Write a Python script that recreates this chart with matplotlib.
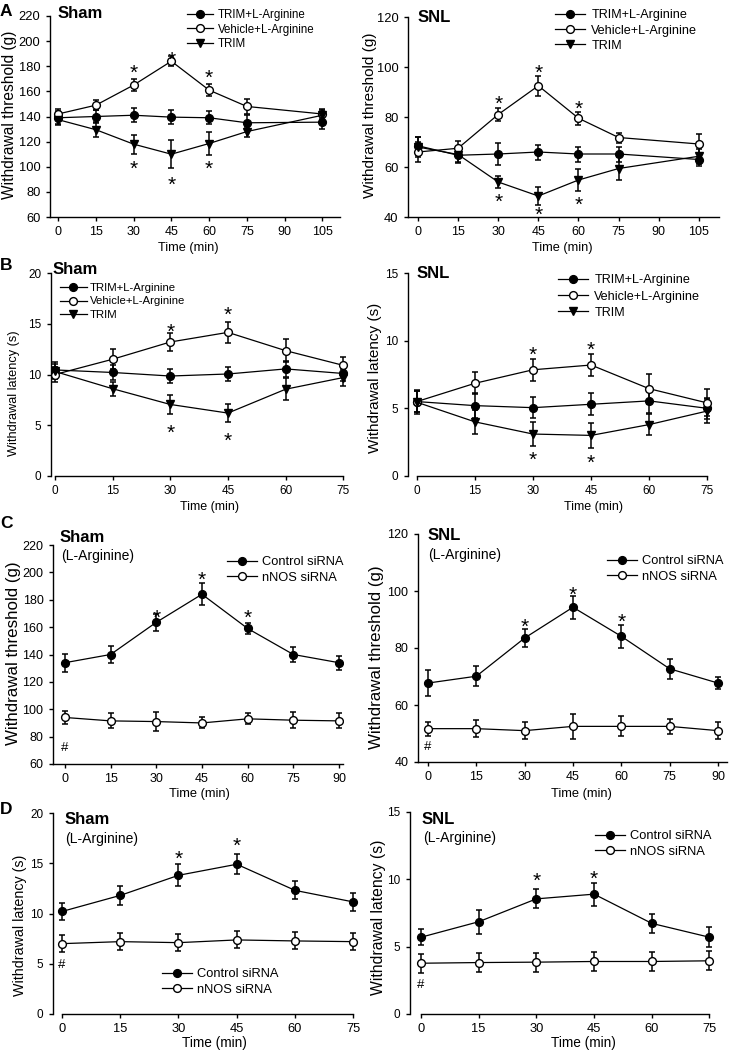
import matplotlib
matplotlib.use('Agg')
import matplotlib.pyplot as plt
from matplotlib.lines import Line2D
from matplotlib.transforms import offset_copy

plt.rcParams['font.family'] = ['Liberation Sans', 'DejaVu Sans']

W, H = 730, 1050
fig = plt.figure(figsize=(7.3, 10.5), dpi=100)


def fx(px):
    return px / W


def fy(py):
    return 1 - py / H


# ---------------- data ----------------
# Panel A: withdrawal threshold (g)
time_a = [0, 15, 30, 45, 60, 75, 105]
xticks_a = [0, 15, 30, 45, 60, 75, 90, 105]
labels_abc = ['TRIM+L-Arginine', 'Vehicle+L-Arginine', 'TRIM']

a_sham_trim_larg = [139, 140, 141, 139.5, 139, 135, 135.5]
a_sham_trim_larg_sem = [5, 5, 5.5, 5.5, 5, 6, 5.5]
a_sham_veh_larg = [142, 149, 165, 184, 161, 148, 142]
a_sham_veh_larg_sem = [4, 4, 5, 4, 5, 6, 4]
a_sham_trim = [137.5, 129.5, 118, 110, 118.5, 128, 141]
a_sham_trim_sem = [4, 6, 7.5, 11, 9, 4, 4]
a_sham_star_x = [30, 45, 60, 30, 45, 60]
a_sham_star_y = [179, 190, 175, 103, 90, 103]

a_snl_trim_larg = [68.5, 64.7, 65.2, 66, 65.2, 65.2, 63]
a_snl_trim_larg_sem = [3.5, 3, 4.3, 3, 3, 3, 2.5]
a_snl_veh_larg = [66, 67.5, 81, 92.5, 79.5, 71.8, 69.2]
a_snl_veh_larg_sem = [4, 3, 2.5, 4, 2.5, 2, 4]
a_snl_trim = [68, 65, 54, 48.4, 54.8, 59.4, 64.3]
a_snl_trim_sem = [4, 3, 2.5, 3.5, 4.5, 4.5, 3]
a_snl_star_x = [30, 45, 60, 30, 45, 60]
a_snl_star_y = [87.5, 100, 85.5, 48.5, 43, 47]

# Panel B: withdrawal latency (s)
time_b = [0, 15, 30, 45, 60, 75]
b_sham_trim_larg = [10.45, 10.2, 9.85, 10.05, 10.55, 10.1]
b_sham_trim_larg_sem = [0.8, 0.7, 0.7, 0.7, 0.8, 0.7]
b_sham_veh_larg = [10.0, 11.5, 13.2, 14.15, 12.35, 10.9]
b_sham_veh_larg_sem = [0.7, 1.0, 0.9, 1.0, 1.1, 0.8]
b_sham_trim = [10.3, 8.6, 7.05, 6.2, 8.55, 9.7]
b_sham_trim_sem = [0.7, 0.7, 0.9, 0.9, 1.1, 0.8]
b_sham_star_x = [30, 45, 30, 45]
b_sham_star_y = [14.8, 16.4, 4.85, 4.0]

b_snl_trim_larg = [5.5, 5.2, 5.05, 5.3, 5.55, 5.0]
b_snl_trim_larg_sem = [0.8, 0.9, 0.8, 0.8, 0.9, 0.8]
b_snl_veh_larg = [5.5, 6.85, 7.85, 8.2, 6.45, 5.4]
b_snl_veh_larg_sem = [0.8, 0.8, 0.8, 0.8, 1.1, 1.0]
b_snl_trim = [5.45, 4.0, 3.1, 3.0, 3.8, 4.8]
b_snl_trim_sem = [0.9, 0.9, 0.9, 0.9, 0.8, 0.9]
b_snl_star_x = [30, 45, 30, 45]
b_snl_star_y = [9.4, 9.75, 1.6, 1.4]

# Panel C: withdrawal threshold (g), siRNA
time_c = [0, 15, 30, 45, 60, 75, 90]
labels_cd = ['Control siRNA', 'nNOS siRNA']
c_sham_ctrl = [134, 140, 163.5, 184, 159, 140, 134]
c_sham_ctrl_sem = [6.5, 6.5, 6, 8, 4, 5.5, 5]
c_sham_nnos = [94, 91.5, 91, 90, 93, 92, 91.5]
c_sham_nnos_sem = [5, 5.5, 7, 4, 4, 6, 5.5]
c_sham_star_x = [30, 45, 60]
c_sham_star_y = [171, 199, 171]
c_sham_hash_y = 73

c_snl_ctrl = [67.7, 70.1, 83.5, 94.3, 84.1, 72.7, 67.7]
c_snl_ctrl_sem = [4.5, 3.5, 3, 4, 4, 3.5, 2]
c_snl_nnos = [51.7, 51.7, 51, 52.5, 52.5, 52.5, 51]
c_snl_nnos_sem = [2.5, 3, 3, 4.5, 3.5, 2.5, 3]
c_snl_star_x = [30, 45, 60]
c_snl_star_y = [89.5, 100.5, 91]
c_snl_hash_y = 46

# Panel D: withdrawal latency (s), siRNA
time_d = [0, 15, 30, 45, 60, 75]
d_sham_ctrl = [10.2, 11.8, 13.8, 14.9, 12.3, 11.15]
d_sham_ctrl_sem = [0.85, 0.95, 1.1, 1.0, 0.9, 0.9]
d_sham_nnos = [7.0, 7.2, 7.1, 7.37, 7.27, 7.2]
d_sham_nnos_sem = [0.85, 0.85, 0.85, 0.85, 0.85, 0.85]
d_sham_star_x = [30, 45]
d_sham_star_y = [16.0, 17.3]
d_sham_hash_y = 5.0

d_snl_ctrl = [5.7, 6.85, 8.55, 8.9, 6.73, 5.7]
d_snl_ctrl_sem = [0.6, 0.9, 0.7, 0.85, 0.7, 0.75]
d_snl_nnos = [3.77, 3.82, 3.85, 3.9, 3.9, 3.95]
d_snl_nnos_sem = [0.7, 0.7, 0.7, 0.7, 0.7, 0.7]
d_snl_star_x = [30, 45]
d_snl_star_y = [10.3, 10.45]
d_snl_hash_y = 2.3

# ---------------- styles ----------------
STY = {
    'filled': dict(marker='o', mfc='black', mec='black', ms=5.6),
    'open': dict(marker='o', mfc='white', mec='black', ms=5.6, mew=1.0),
    'tri': dict(marker='v', mfc='black', mec='black', ms=6.0),
}


def panel(rect, xlim, ylim, xticks, yticks, series, ylabel, ylab_fs, ylab_xy,
          xlab_xy, xlab_fs, tick_fs, title, title_xy, sub_xy, leg, stars,
          hashes, xbounds=None):
    x0, x1, yt, yb = rect
    ax = fig.add_axes([fx(x0), fy(yb), (x1 - x0) / W, (yb - yt) / H])
    ax.set_xlim(*xlim)
    ax.set_ylim(*ylim)
    ax.set_xticks(xticks)
    ax.set_yticks(yticks)
    for s in ['top', 'right']:
        ax.spines[s].set_visible(False)
    for s in ['left', 'bottom']:
        ax.spines[s].set_linewidth(1.0)
    if xbounds is not None:
        ax.spines['bottom'].set_bounds(*xbounds)
    ax.tick_params(direction='out', length=3, width=1.0, pad=3.8)
    ax.tick_params(axis='x', labelsize=tick_fs[0])
    ax.tick_params(axis='y', labelsize=tick_fs[1])
    handles = []
    for (xs, ys, es, kind, lab) in series:
        ax.errorbar(xs, ys, yerr=es, fmt='none', ecolor='black',
                    elinewidth=1.1, capsize=2.4, capthick=1.1, zorder=2)
        ax.plot(xs, ys, color='black', lw=0.9, zorder=3, **STY[kind])
        handles.append(Line2D([], [], color='black', lw=0.9, **STY[kind]))
    ax.set_ylabel(ylabel, fontsize=ylab_fs)
    ax.yaxis.label.set_va('center')
    ax.yaxis.set_label_coords(fx(ylab_xy[0]), fy(ylab_xy[1]),
                              transform=fig.transFigure)
    ax.set_xlabel('Time (min)', fontsize=xlab_fs)
    ax.xaxis.label.set_va('center')
    ax.xaxis.set_label_coords(fx(xlab_xy[0]), fy(xlab_xy[1]),
                              transform=fig.transFigure)
    fig.text(fx(title_xy[0]), fy(title_xy[1]), title, fontsize=12,
             fontweight='bold', ha='left', va='center')
    if sub_xy is not None:
        fig.text(fx(sub_xy[0]), fy(sub_xy[1]), '(L-Arginine)', fontsize=10,
                 ha='left', va='center')
    lx, ly, lfs, hl, htp, lsp = leg
    ax.legend(handles, [s[4] for s in series], loc='center left',
              bbox_to_anchor=(fx(lx), fy(ly)), bbox_transform=fig.transFigure,
              frameon=False, borderpad=0, borderaxespad=0, fontsize=lfs,
              handlelength=hl, handletextpad=htp, labelspacing=lsp,
              numpoints=1)
    star_fs = 15
    st_tr = offset_copy(ax.transData, fig=fig, x=0, y=-0.56 * star_fs,
                        units='points')
    for sx, sy in zip(*stars):
        ax.text(sx, sy, '*', fontsize=star_fs, ha='center', va='baseline',
                transform=st_tr)
    if hashes is not None:
        hash_fs = 9.5
        h_tr = offset_copy(ax.transData, fig=fig, x=0, y=-0.36 * hash_fs,
                           units='points')
        ax.text(hashes[0], hashes[1], '#', fontsize=hash_fs, ha='center',
                va='baseline', transform=h_tr)
    return ax


# Panel A
panel((50, 340, 16, 217), (-3.2, 112), (60, 220), xticks_a,
      list(range(60, 221, 20)),
      [(time_a, a_sham_trim_larg, a_sham_trim_larg_sem, 'filled', labels_abc[0]),
       (time_a, a_sham_veh_larg, a_sham_veh_larg_sem, 'open', labels_abc[1]),
       (time_a, a_sham_trim, a_sham_trim_sem, 'tri', labels_abc[2])],
      'Withdrawal threshold (g)', 11.2, (10, 115), (188, 248), 9.2, (9, 9.3),
      'Sham', (58, 14), None, (187, 29.5, 8.3, 2.26, 0.43, 0.25),
      (a_sham_star_x, a_sham_star_y), None)

panel((408, 719, 17, 217), (-3.7, 112.5), (40, 120), xticks_a,
      list(range(40, 121, 20)),
      [(time_a, a_snl_trim_larg, a_snl_trim_larg_sem, 'filled', labels_abc[0]),
       (time_a, a_snl_veh_larg, a_snl_veh_larg_sem, 'open', labels_abc[1]),
       (time_a, a_snl_trim, a_snl_trim_sem, 'tri', labels_abc[2])],
      'Withdrawal threshold (g)', 11.0, (370, 115), (562, 248), 9.2, (9, 9.3),
      'SNL', (418, 17.5), None, (555, 30.5, 9.1, 2.4, 0.48, 0.26),
      (a_snl_star_x, a_snl_star_y), None)

# Panel B
panel((51, 351, 273, 476), (-1.0, 77), (0, 20), time_b, [0, 5, 10, 15, 20],
      [(time_b, b_sham_trim_larg, b_sham_trim_larg_sem, 'filled', labels_abc[0]),
       (time_b, b_sham_veh_larg, b_sham_veh_larg_sem, 'open', labels_abc[1]),
       (time_b, b_sham_trim, b_sham_trim_sem, 'tri', labels_abc[2])],
      'Withdrawal latency (s)', 9.2, (14, 393), (210, 507), 9, (8.5, 8.5),
      'Sham', (53, 269), None, (60, 301.5, 8.2, 2.37, 0.26, 0.3),
      (b_sham_star_x, b_sham_star_y), None, xbounds=(0, 75))

panel((408, 715, 273, 476), (-2.3, 77), (0, 15), time_b, [0, 5, 10, 15],
      [(time_b, b_snl_trim_larg, b_snl_trim_larg_sem, 'filled', labels_abc[0]),
       (time_b, b_snl_veh_larg, b_snl_veh_larg_sem, 'open', labels_abc[1]),
       (time_b, b_snl_trim, b_snl_trim_sem, 'tri', labels_abc[2])],
      'Withdrawal latency (s)', 11, (375, 378), (593, 507), 9, (8.5, 8.5),
      'SNL', (417, 273), None, (558, 296.5, 9.1, 2.4, 0.48, 0.32),
      (b_snl_star_x, b_snl_star_y), None, xbounds=(0, 75))

# Panel C
panel((53, 343, 545, 764), (-3.9, 91.3), (60, 220), time_c,
      list(range(60, 221, 20)),
      [(time_c, c_sham_ctrl, c_sham_ctrl_sem, 'filled', labels_cd[0]),
       (time_c, c_sham_nnos, c_sham_nnos_sem, 'open', labels_cd[1])],
      'Withdrawal threshold (g)', 12.2, (14, 653), (199, 794), 9.3, (9, 9),
      'Sham', (60, 537), (61, 556), (227, 570, 9.3, 2.3, 0.39, 0.25),
      (c_sham_star_x, c_sham_star_y), (0, c_sham_hash_y))

panel((418, 727, 534, 762), (-3.1, 92.8), (40, 120), time_c,
      list(range(40, 121, 20)),
      [(time_c, c_snl_ctrl, c_snl_ctrl_sem, 'filled', labels_cd[0]),
       (time_c, c_snl_nnos, c_snl_nnos_sem, 'open', labels_cd[1])],
      'Withdrawal threshold (g)', 12.2, (376, 657), (581, 794), 9.3, (9, 9),
      'SNL', (428, 535), (428, 555), (607, 569, 9.3, 2.3, 0.39, 0.25),
      (c_snl_star_x, c_snl_star_y), (0, c_snl_hash_y))

# Panel D
panel((53, 365, 813, 1014), (-2.3, 78), (0, 20), time_d, [0, 5, 10, 15, 20],
      [(time_d, d_sham_ctrl, d_sham_ctrl_sem, 'filled', labels_cd[0]),
       (time_d, d_sham_nnos, d_sham_nnos_sem, 'open', labels_cd[1])],
      'Withdrawal latency (s)', 10.3, (20, 925), (214, 1043), 9.8, (9.3, 8.5),
      'Sham', (65, 820), (65, 839), (162, 982, 9.3, 2.3, 0.39, 0.25),
      (d_sham_star_x, d_sham_star_y), (0, d_sham_hash_y), xbounds=(0, 75))

panel((410, 721, 812, 1014), (-2.85, 78), (0, 15), time_d, [0, 5, 10, 15],
      [(time_d, d_snl_ctrl, d_snl_ctrl_sem, 'filled', labels_cd[0]),
       (time_d, d_snl_nnos, d_snl_nnos_sem, 'open', labels_cd[1])],
      'Withdrawal latency (s)', 11.3, (378, 917), (583, 1043), 9.8, (9.3, 8.5),
      'SNL', (422, 820), (423, 838), (595, 844, 9.3, 2.3, 0.39, 0.25),
      (d_snl_star_x, d_snl_star_y), (0, d_snl_hash_y), xbounds=(0, 75))

# panel letters
for letter, ly in [('A', 11), ('B', 265), ('C', 524), ('D', 809)]:
    fig.text(fx(0), fy(ly), letter, fontsize=12.5, fontweight='bold',
             ha='left', va='center')

fig.savefig('out.png', dpi=100)
